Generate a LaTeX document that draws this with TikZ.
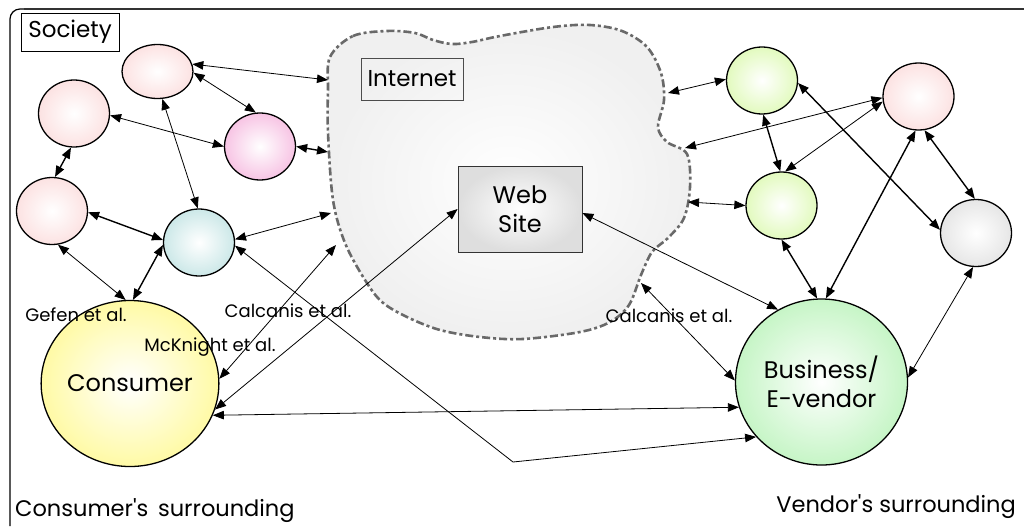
\documentclass[tikz,border=0pt]{standalone}
\usepackage{fontspec}
\setmainfont{Poppins}[Ligatures=TeXOff]
\usetikzlibrary{arrows.meta,shapes.geometric,calc}

\definecolor{pinkc}{RGB}{252,226,226}
\definecolor{magc}{RGB}{247,196,228}
\definecolor{tealc}{RGB}{204,232,232}
\definecolor{limec}{RGB}{226,250,190}
\definecolor{greyc}{RGB}{230,230,230}
\definecolor{yelc}{RGB}{255,250,165}
\definecolor{grnc}{RGB}{198,245,198}
\definecolor{cloudline}{RGB}{105,105,105}

\tikzset{
  bub/.style={ellipse, draw=black, line width=1.3pt, inner sep=0pt,
    minimum width=71pt, minimum height=67pt, inner color=white, outer color=#1},
  big/.style={ellipse, draw=black, line width=1.3pt, inner sep=0pt,
    minimum width=172pt, minimum height=166pt, inner color=white, outer color=#1,
    align=center, font=\fontsize{24}{29}\selectfont},
  lbl/.style={inner sep=0pt, font=\fontsize{22.5}{27}\selectfont},
  small/.style={inner sep=0pt, font=\fontsize{18}{22}\selectfont},
  boxlbl/.style={draw=black, line width=0.8pt, inner sep=0pt, font=\fontsize{23}{27}\selectfont},
  tip/.tip={Triangle[length=11pt,width=8.5pt]},
  arr/.style={tip-tip, line width=0.8pt},
  arrb/.style={tip-tip, line width=1.4pt},
}

\begin{document}
\begin{tikzpicture}[x=1pt,y=-1pt]
\useasboundingbox (0,0) rectangle (1024,527);

% frame of the whole society
\draw[line width=1.2pt, rounded corners=10pt] (10,526) -- (10,9) -- (1024,9);
\draw[line width=2.2pt,black!80] (24,9) -- (1024,9);
\node[boxlbl, minimum width=98pt, minimum height=38pt] (soc) at (70,32) {Society};

% the Internet cloud
\draw[cloudline, line width=2.6pt, dash pattern=on 8pt off 3pt on 3pt off 3pt,
      inner color=white, outer color=black!6]
  plot[smooth cycle, tension=0.55] coordinates {
    (330,57) (353,36) (387,31) (415,33) (433,40) (452,44) (472,42) (500,36)
    (553,27) (590,25) (622,31) (647,47) (661,73) (664,100) (658,127)
    (667,142) (687,154) (690,187) (684,218) (668,238) (652,252) (641,275)
    (629,305) (610,322) (580,332) (523,339) (480,337) (440,330) (407,317)
    (382,302) (365,280) (345,243) (333,200) (328,133) (328,90)};
\node[boxlbl, draw=black!70, minimum width=102pt, minimum height=42pt] (inet) at (412,79) {Internet};
\node[draw=black!80, line width=0.8pt, minimum width=124pt, minimum height=86pt,
      inner color=white, outer color=black!13, align=center, inner sep=0pt,
      font=\fontsize{24}{29}\selectfont] (WS) at (520,209) {Web\\Site};

% points on the cloud border
\coordinate (c1) at (328,80);
\coordinate (c2) at (328,152);
\coordinate (c3) at (331,213);
\coordinate (c4) at (336,245);
\coordinate (c5) at (641,283);
\coordinate (c6) at (668,93);
\coordinate (c7) at (685,148);
\coordinate (c8) at (688,202);
\coordinate (kink) at (513,462);

% people around the consumer
\node[bub=pinkc, minimum height=54pt] (A) at (157.5,71.5) {};
\node[bub=pinkc] (B) at (74,113.5) {};
\node[bub=magc] (C) at (260,146.5) {};
\node[bub=pinkc] (D) at (52,211) {};
\node[bub=tealc] (E) at (199,242.5) {};

% people around the vendor
\node[bub=limec] (F) at (762,80.5) {};
\node[bub=pinkc] (G) at (918.5,96.5) {};
\node[bub=limec] (H) at (781.5,205.5) {};
\node[bub=greyc] (I) at (976,233) {};

\node[big=yelc] (Con) at (130,383.5) {Consumer};
\node[big=grnc] (Bus) at (821.5,382) {Business/\\E-vendor};

% connectors, consumer side
\draw[arr] (A.12) -- (c1);
\draw[arr] (A.-2) -- (C.97);
\draw[arr] (B.-3) -- (C.180);
\draw[arrb] (C.0) -- (c2);
\draw[arrb] (B.-95) -- (D.85);
\draw[arr] (A.-80) -- (E.92);
\draw[arrb] (D.-2) -- (E.176);
\draw[arr] (E.5) -- (c3);
\draw[arr] (D.-80) -- (Con.93);
\draw[arrb] (E.184) -- (Con.88);
\draw[arr] (E.-5) -- (kink) -- (Bus.220);
\draw[arr] (Con.-21) -- (Bus.197);
\draw[arr] (Con.3) -- (c4);
\draw[arr] (Con.-17) -- (WS.west);
\draw[arr] ($(WS.east)+(0,4)$) -- (Bus.121);
\draw[arr] (c5) -- (Bus.179);

% connectors, vendor side
\draw[arr] (c6) -- (F.178);
\draw[arr] (c7) -- (G.182);
\draw[arr] (c8) -- (H.180);
\draw[arrb] (F.-88) -- (H.92);
\draw[arr] (G.188) -- (H.84);
\draw[arrb] (F.-4) -- (I.175);
\draw[arrb] (G.-80) -- (I.92);
\draw[arrb] (G.-95) -- (Bus.87);
\draw[arrb] (H.-90) -- (Bus.93);
\draw[arr] (I.-95) -- (Bus.3);

% study labels
\node[small] (gef) at (76,315) {Gefen et al.};
\node[small] (mck) at (210,347) {McKnight et al.};
\node[small] (cal1) at (288,311) {Calcanis et al.};
\node[small] (cal2) at (669,316) {Calcanis et al.};

% surroundings
\node[lbl, anchor=south west] (csur) at (15,523) {Consumer's\, surrounding};
\node[lbl, anchor=south east] (vsur) at (1016,519) {Vendor's surrounding};
\end{tikzpicture}
\end{document}
